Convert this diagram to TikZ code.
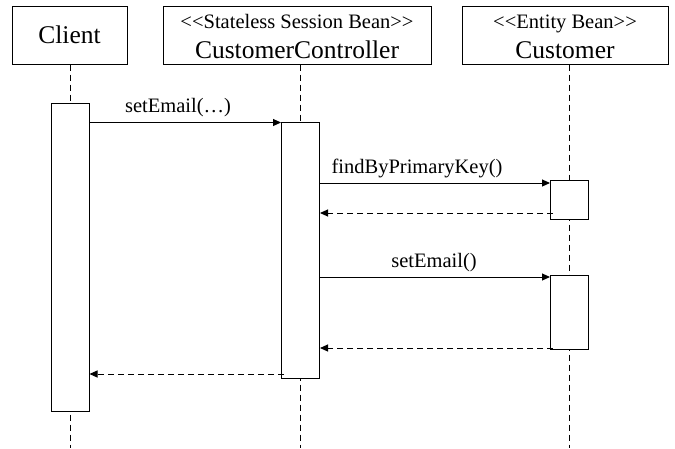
\documentclass[tikz,border=0pt]{standalone}
\usepackage{fontspec}
\setmainfont{Liberation Serif}[Ligatures=TeXOff]
\usetikzlibrary{arrows.meta,positioning}

\tikzset{
  objbox/.style={draw,line width=1pt,minimum height=58pt,inner sep=0pt},
  bigtext/.style={font=\fontsize{25.5}{28}\selectfont,inner sep=0pt},
  smalltext/.style={font=\fontsize{20.5}{23}\selectfont,inner sep=0pt},
  lifeline/.style={line width=1pt,dash pattern=on 6pt off 4pt},
  actbox/.style={draw,fill=white,line width=1pt,minimum width=38pt,inner sep=0pt},
  callmsg/.style={line width=1pt,-{Triangle[length=8pt,width=7pt]}},
  retmsg/.style={callmsg,dash pattern=on 6pt off 4pt},
}

\begin{document}
\begin{tikzpicture}[x=1pt,y=-1pt]
\useasboundingbox (0,0) rectangle (675,448);

% objects
\node [objbox,minimum width=115pt] (client) at (69.5,35) {};
\node [objbox,minimum width=268pt] (ctrl) at (297,35) {};
\node [objbox,minimum width=206pt] (cust) at (565,35) {};
\node [bigtext] (clientname) at (client.center) {Client};
\node [smalltext,anchor=base] (ctrlstereo) at (297,28) {<<Stateless Session Bean>>};
\node [bigtext,anchor=base] (ctrlname) at (297,58) {CustomerController};
\node [smalltext,anchor=base] (custstereo) at (565,28) {<<Entity Bean>>};
\node [bigtext,anchor=base] (custname) at (565,58) {Customer};

% lifelines
\coordinate (clientend) at (70,448);
\coordinate (ctrlend) at (300.5,448);
\coordinate (custend) at (569.5,448);
\draw [lifeline] (client.south -| clientend) -- (clientend);
\draw [lifeline] (ctrl.south -| ctrlend) -- (ctrlend);
\draw [lifeline] (cust.south -| custend) -- (custend);

% activations
\node [actbox,minimum height=308pt] (clientact) at (70,257) {};
\node [actbox,minimum height=256pt] (ctrlact) at (300.5,250) {};
\node [actbox,minimum height=39pt] (custact1) at (569.5,199.5) {};
\node [actbox,minimum height=74pt] (custact2) at (569.5,312) {};

% messages
\coordinate (m1) at (0,122.5);
\coordinate (m2) at (0,183);
\coordinate (m3) at (0,213);
\coordinate (m4) at (0,277);
\coordinate (m5) at (0,348);
\coordinate (m6) at (0,374);
\draw [callmsg] (clientact.east |- m1) -- (ctrlact.west |- m1);
\draw [callmsg] (ctrlact.east |- m2) -- (custact1.west |- m2);
\draw [retmsg] ([xshift=3pt]custact1.west |- m3) -- (ctrlact.east |- m3);
\draw [callmsg] (ctrlact.east |- m4) -- (custact2.west |- m4);
\draw [retmsg] ([xshift=3pt]custact2.west |- m5) -- (ctrlact.east |- m5);
\draw [retmsg] ([xshift=3pt]ctrlact.west |- m6) -- (clientact.east |- m6);

\node [smalltext,anchor=base] (lbl1) at (178,112) {setEmail(…)};
\node [smalltext,anchor=base] (lbl2) at (417,173) {findByPrimaryKey()};
\node [smalltext,anchor=base] (lbl3) at (434,267) {setEmail()};
\end{tikzpicture}
\end{document}
